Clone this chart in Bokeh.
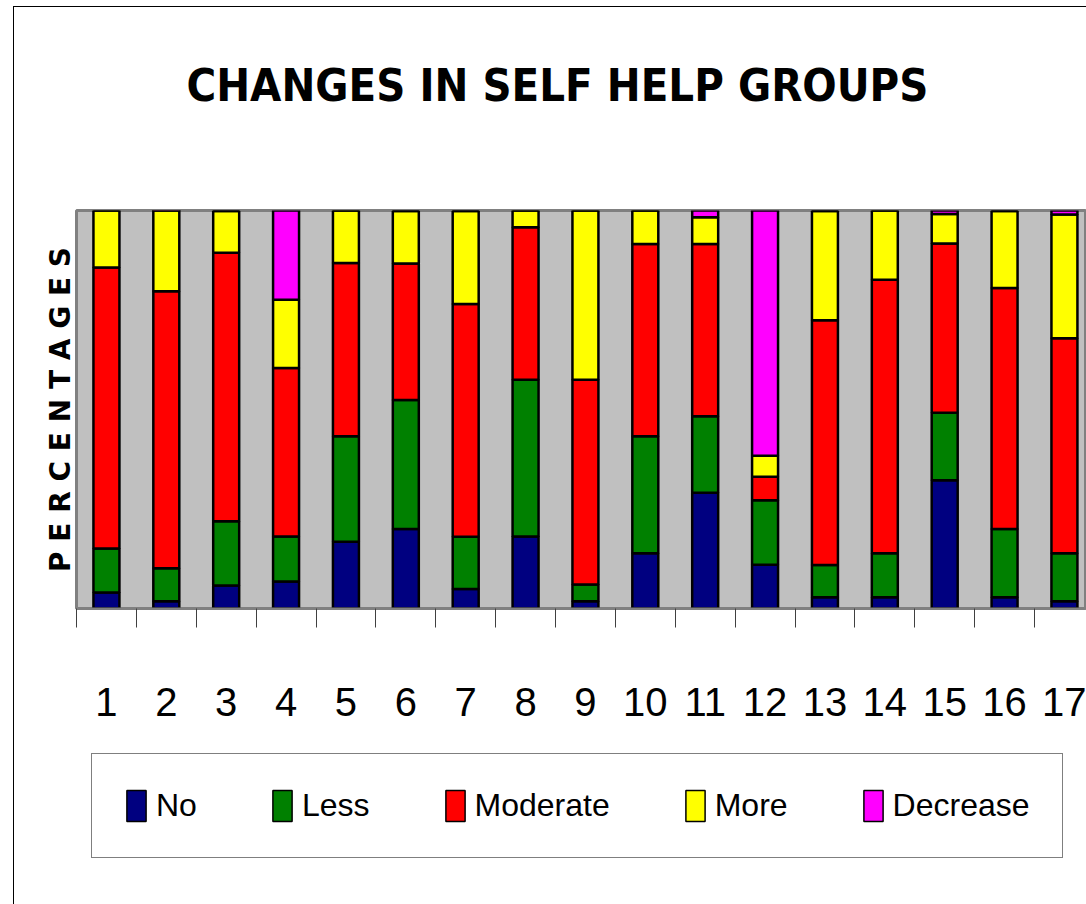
from bokeh.plotting import figure
from bokeh.layouts import column
from bokeh.models import (Range1d, FixedTicker, Legend, LegendItem, ColumnDataSource, InlineStyleSheet, Title)
from bokeh.embed import file_html
from bokeh.resources import INLINE

# ---- data (percentages) ----
groups = [str(i) for i in range(1, 18)]
no_change = [4.0, 1.8, 5.8, 6.8, 16.8, 20.0, 4.9, 18.1, 1.8, 13.9, 29.1, 11.0, 2.8, 2.8, 32.2, 2.8, 1.8]
less      = [11.1, 8.3, 16.1, 11.3, 26.5, 32.4, 13.1, 39.4, 4.2, 29.4, 19.2, 16.2, 8.1, 11.1, 17.0, 17.2, 12.1]
moderate  = [70.6, 69.6, 67.5, 42.3, 43.5, 34.3, 58.5, 38.3, 51.5, 48.3, 43.3, 5.9, 61.5, 68.7, 42.5, 60.5, 54.0]
more      = [14.3, 20.4, 10.5, 17.2, 13.2, 13.2, 23.4, 4.2, 42.5, 8.4, 6.7, 5.3, 27.5, 17.4, 7.4, 19.4, 31.1]
decrease  = [0.0, 0.0, 0.0, 22.4, 0.0, 0.0, 0.0, 0.0, 0.0, 0.0, 1.7, 61.7, 0.0, 0.0, 1.0, 0.0, 1.0]

series_names = ["No", "Less", "Moderate", "More", "Decrease"]
series_colors = ["#000080", "#008000", "#FF0000", "#FFFF00", "#FF00FF"]

xpos = list(range(1, len(groups) + 1))
data = dict(x=xpos, No=no_change, Less=less, Moderate=moderate, More=more, Decrease=decrease)
src = ColumnDataSource(data)

W = 1086
H_MAIN = 740
H_LEG = 164
FRAME_LEFT = 76
FRAME_TOP = 210
FRAME_BOTTOM = 608
SPACING = 59.875
x_end = 0.5 + (W - FRAME_LEFT) / SPACING

p = figure(width=W, height=H_MAIN, output_backend="svg", toolbar_location=None,
           x_range=Range1d(0.5, x_end), y_range=Range1d(0, 100),
           min_border_left=FRAME_LEFT, min_border_right=0,
           min_border_top=FRAME_TOP, min_border_bottom=H_MAIN - FRAME_BOTTOM)

p.background_fill_color = "#C0C0C0"
p.border_fill_color = "white"
p.outline_line_color = "#808080"
p.outline_line_width = 3
p.xgrid.visible = False
p.ygrid.visible = False

bar_kw = dict(x="x", width=0.434, source=src, color=series_colors, line_color="black", line_width=2.5)
renderers = p.vbar_stack(series_names, **bar_kw)
for r, c in zip(renderers, series_colors):
    r.glyph.fill_color = c
    r.glyph.line_color = "black"

# title
p.title.text = "CHANGES IN SELF HELP GROUPS"
p.title.text_font = "DejaVu Sans Condensed"
p.title.text_font_size = "45px"
p.title.text_font_style = "bold"
p.title.text_color = "black"
p.title.align = "left"
p.title.vertical_align = "top"
p.title.offset = 110
p.title.standoff = 116
# blank gap between the title and the plot area
p.add_layout(Title(text=" ", text_font_size="10px", standoff=26), "above")

# x axis: labels at centres, small ticks at category boundaries
xa = p.xaxis[0]
xa.ticker = FixedTicker(ticks=xpos, minor_ticks=[i + 0.5 for i in range(0, 18)])
xa.major_label_overrides = {i: g for i, g in zip(xpos, groups)}
xa.major_tick_out = 0
xa.major_tick_in = 0
xa.minor_tick_in = 0
xa.minor_tick_out = 19
xa.minor_tick_line_color = "#404040"
xa.axis_line_color = "#808080"
xa.axis_line_width = 2
xa.major_label_standoff = 60
xa.major_label_text_font = "Liberation Sans"
xa.major_label_text_font_size = "40px"
xa.major_label_text_color = "black"

# y axis: only its title
ya = p.yaxis[0]
ya.ticker = FixedTicker(ticks=[])
ya.major_label_text_font_size = "0px"
ya.major_tick_line_color = None
ya.minor_tick_line_color = None
ya.axis_line_color = None
ya.axis_label = "P E R C E N T A G E S"
ya.axis_label_text_font = "DejaVu Sans"
ya.axis_label_text_font_size = "28px"
ya.axis_label_text_font_style = "bold"
ya.axis_label_text_color = "black"
ya.axis_label_standoff = 0

# ---- legend strip below the chart ----
lg = figure(width=W, height=H_LEG, output_backend="svg", toolbar_location=None,
            x_range=Range1d(0.5, x_end), y_range=Range1d(0, 100),
            x_axis_location=None, y_axis_location=None, title=None,
            min_border=0)
lg.outline_line_color = None
lg.background_fill_color = "white"
lg.border_fill_color = "white"
lg.xgrid.visible = False
lg.ygrid.visible = False
leg_renderers = lg.vbar_stack(series_names, **bar_kw)
for r, c in zip(leg_renderers, series_colors):
    r.glyph.fill_color = c
    r.glyph.line_color = "black"
    r.glyph.line_width = 1.5
    r.visible = False

legend = Legend(items=[LegendItem(label=n, renderers=[r]) for n, r in zip(series_names, leg_renderers)],
                orientation="horizontal", location=(15, 46))
legend.label_text_font = "Liberation Sans"
legend.label_text_font_size = "32px"
legend.label_text_color = "black"
legend.glyph_width = 24
legend.glyph_height = 39
legend.label_standoff = 8
legend.spacing = 73
legend.padding = 32
legend.margin = 0
legend.border_line_color = "black"
legend.border_line_width = 1
legend.background_fill_color = "white"
legend.background_fill_alpha = 1
legend.inactive_fill_alpha = 0
lg.add_layout(legend, "center")

layout = column(p, lg, spacing=0)
# thin outer border of the chart area (its left and top edges are visible in the reference)
layout.stylesheets = [InlineStyleSheet(css=""":host::after {
  content: ""; position: absolute; left: 13px; top: 6px; right: 0; bottom: 0;
  border-left: 1px solid black; border-top: 1px solid black; pointer-events: none; }""")]

open("out.html", "w").write(file_html(layout, INLINE))
